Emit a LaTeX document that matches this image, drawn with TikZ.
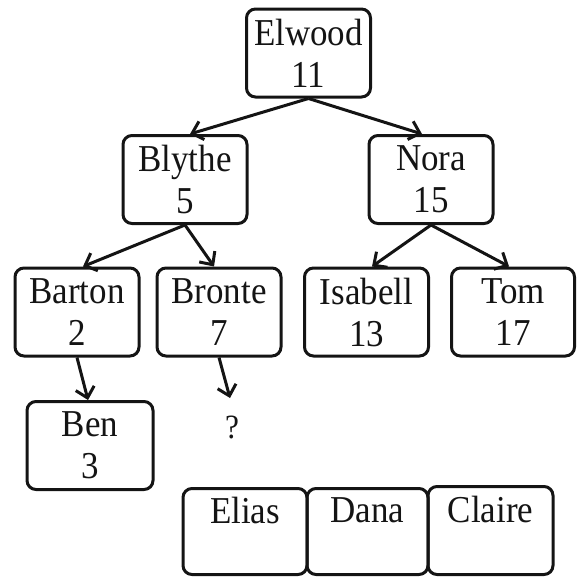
\documentclass[tikz,border=0pt]{standalone}
\usepackage{fontspec}
\setmainfont{Liberation Serif}[FakeStretch=0.92]
\usetikzlibrary{arrows.meta}
\begin{document}
\begin{tikzpicture}[x=1pt,y=-1pt,
  box/.style={draw=black!92,line width=3pt,rounded corners=9pt,
    minimum width=124pt,minimum height=88pt,inner sep=0pt,
    align=center,font=\fontsize{38}{42}\selectfont,text=black!92},
  link/.style={draw=black!92,line width=3pt,
    -{Straight Barb[length=10pt,width=19pt,line width=3pt]}}]
\useasboundingbox (0,0) rectangle (578,576);
\node[box] (elwood) at (308.5,53) {Elwood\\11};
\node[box] (blythe) at (185,179.5) {Blythe\\5};
\node[box] (nora) at (431,179.5) {Nora\\15};
\node[box] (barton) at (77,312) {Barton\\2};
\node[box] (bronte) at (219,312) {Bronte\\7};
\node[box] (isabell) at (366.5,312) {Isabell\\13};
\node[box,minimum width=123pt] (tom) at (513,312) {Tom\\17};
\node[box,minimum width=126pt] (ben) at (90,445.5) {Ben\\3};
\node[font=\fontsize{34}{38}\selectfont,text=black!92,inner sep=0pt] (q) at (232,427) {?};
\coordinate (qtip) at (230,398);
\node[box,minimum height=86pt] (elias) at (245,531.5) {Elias\\~};
\node[box,minimum width=121pt,minimum height=86pt] (dana) at (367.5,531.5) {Dana\\~};
\node[box,minimum width=125pt,minimum height=88pt] (claire) at (490.5,530.5) {Claire\\~};
\draw[link] (elwood.south) -- ([xshift=5pt]blythe.north);
\draw[link] (elwood.south) -- ([xshift=-9pt]nora.north);
\draw[link] (blythe.south) -- ([xshift=6pt]barton.north);
\draw[link] (blythe.south) -- ([xshift=-5pt]bronte.north);
\draw[link] (nora.south) -- ([xshift=5.5pt]isabell.north);
\draw[link] (nora.south) -- ([xshift=-4pt]tom.north);
\draw[link] (barton.south) -- ([xshift=-2pt]ben.north);
\draw[link] (bronte.south) -- (qtip);
\end{tikzpicture}
\end{document}
